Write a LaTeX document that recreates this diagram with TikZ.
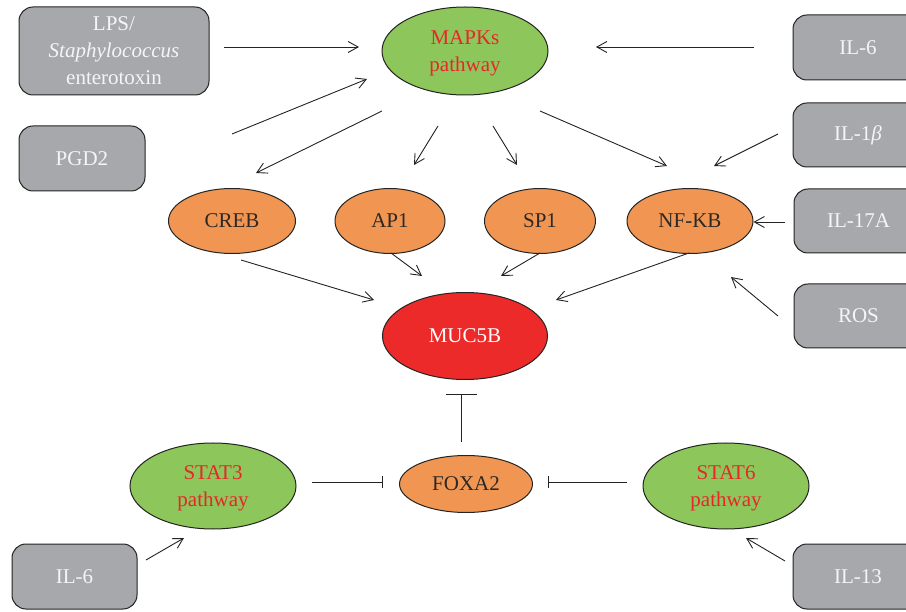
\documentclass[tikz,border=0pt]{standalone}
\usepackage{fontspec}
\setmainfont{Liberation Serif}
\usetikzlibrary{shapes.geometric,arrows.meta,calc}
\definecolor{boxgrey}{RGB}{167,168,172}
\definecolor{pgreen}{RGB}{141,198,90}
\definecolor{porange}{RGB}{240,150,82}
\definecolor{pred}{RGB}{237,42,42}
\definecolor{redtext}{RGB}{232,38,42}
\definecolor{darktext}{RGB}{45,40,38}
\definecolor{linecol}{RGB}{35,35,35}
\tikzset{
  base/.style={draw=linecol, line width=1pt, inner sep=0pt, align=center,
    font=\fontsize{21}{27}\selectfont},
  greybox/.style={base, rectangle, rounded corners=14pt, fill=boxgrey,
    text=white!96!black},
  greenell/.style={base, ellipse, fill=pgreen, text=redtext, text depth=0pt},
  orangeell/.style={base, ellipse, fill=porange, text=darktext},
  redell/.style={base, ellipse, fill=pred, text=white},
  arr/.style={draw=linecol, line width=0.9pt,
    -{Straight Barb[length=10pt,width=11pt,line width=0.9pt]}},
  inhbig/.style={draw=linecol, line width=0.9pt, -{Bar[width=31pt,line width=0.9pt]}},
  inh/.style={draw=linecol, line width=0.9pt, -{Bar[width=12pt,line width=0.9pt]}}
}
\begin{document}
\begin{tikzpicture}[x=1pt,y=-1pt]
\useasboundingbox (0,0) rectangle (906,612);
\clip (0,0) rectangle (906,612);
% grey boxes
\node[greybox, text depth=0pt, minimum width=190pt, minimum height=88pt] (lps) at (114,51)
  {LPS/\\\textit{Staphylococcus}\\enterotoxin};
\node[greybox, minimum width=126pt, minimum height=65pt] (pgd) at (82,158.5) {PGD2};
\node[greybox, minimum width=130pt, minimum height=65pt] (il6t) at (858,47.5) {IL-6};
\node[greybox, minimum width=130pt, minimum height=64pt] (il1b) at (858,135) {IL-1{\itshape β}};
\node[greybox, minimum width=129pt, minimum height=64pt] (il17) at (858.5,221) {IL-17A};
\node[greybox, minimum width=129pt, minimum height=64pt] (ros) at (858.5,316) {ROS};
\node[greybox, minimum width=125pt, minimum height=65pt] (il6b) at (74.5,576.5) {IL-6};
\node[greybox, minimum width=130pt, minimum height=65pt] (il13) at (858,576.5) {IL-13};
% ellipses
\node[greenell, minimum width=166pt, minimum height=88pt] (mapk) at (465,51) {MAPKs\\pathway};
\node[orangeell, minimum width=127pt, minimum height=65pt] (creb) at (232,221) {CREB};
\node[orangeell, minimum width=110pt, minimum height=65pt] (ap1) at (390,221) {AP1};
\node[orangeell, minimum width=111pt, minimum height=65pt] (sp1) at (540,221) {SP1};
\node[orangeell, minimum width=126pt, minimum height=65pt] (nfkb) at (690,221) {NF-KB};
\node[redell, minimum width=165pt, minimum height=87pt] (muc) at (465,336) {MUC5B};
\node[greenell, minimum width=166pt, minimum height=86pt] (stat3) at (213,486) {STAT3\\pathway};
\node[orangeell, minimum width=133pt, minimum height=57pt] (foxa2) at (466,484) {FOXA2};
\node[greenell, minimum width=166pt, minimum height=86pt] (stat6) at (726,486) {STAT6\\pathway};
% connectors
\draw[arr] ($(lps.center)+(110,-4)$) -- ($(mapk.center)+(-106,-4)$);
\draw[arr] ($(il6t.center)+(-104,-0.5)$) -- ($(mapk.center)+(131,-4)$);
\draw[arr] ($(pgd.center)+(150,-24.5)$) -- ($(mapk.center)+(-98,28)$);
\draw[arr] ($(mapk.center)+(-83,60)$) -- ($(creb.center)+(24,-48)$);
\draw[arr] ($(mapk.center)+(-27,75)$) -- ($(ap1.center)+(24,-56)$);
\draw[arr] ($(mapk.center)+(28,75)$) -- ($(sp1.center)+(-23,-56)$);
\draw[arr] ($(mapk.center)+(75,60)$) -- ($(nfkb.center)+(-23,-55)$);
\draw[arr] ($(il1b.center)+(-80,-1)$) -- ($(nfkb.center)+(24,-55)$);
\draw[arr] ($(il17.center)+(-73.5,1)$) -- ($(nfkb.east)+(0,1)$);
\draw[arr] ($(ros.center)+(-80.5,0)$) -- ($(nfkb.center)+(41,56)$);
\draw[arr] ($(creb.center)+(9,39)$) -- ($(muc.center)+(-91,-36)$);
\draw[arr] ($(ap1.center)+(1,32)$) -- ($(muc.center)+(-43,-60)$);
\draw[arr] ($(sp1.center)+(0,32)$) -- ($(muc.center)+(36,-60)$);
\draw[arr] ($(nfkb.center)+(-1,32)$) -- ($(muc.center)+(91,-36)$);
\draw[inhbig] ($(foxa2.center)+(-5,-42)$) -- ($(muc.center)+(-4,58)$);
\draw[inh] ($(stat3.center)+(99,-4)$) -- ($(foxa2.center)+(-83,-2)$);
\draw[inh] ($(stat6.center)+(-99,-4)$) -- ($(foxa2.center)+(82,-2)$);
\draw[arr] ($(il6b.center)+(71.5,-16.5)$) -- ($(stat3.center)+(-29,52)$);
\draw[arr] ($(il13.center)+(-73,-15.5)$) -- ($(stat6.center)+(20,52)$);
\end{tikzpicture}
\end{document}
